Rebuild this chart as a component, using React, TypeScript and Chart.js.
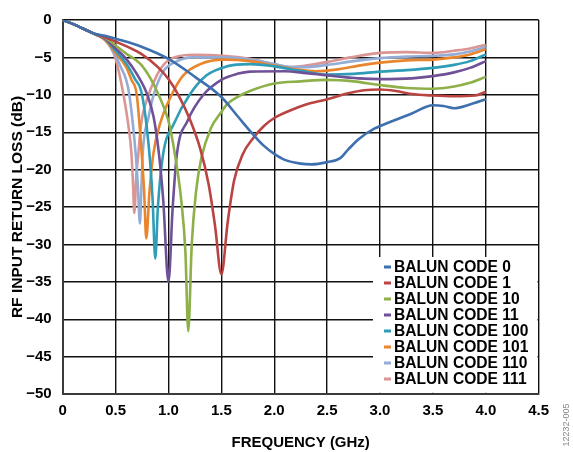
import React, { useEffect, useRef } from "react";
import { Chart, registerables } from "chart.js";

Chart.register(...registerables);

const seriesLabels = [
  "BALUN CODE 0",
  "BALUN CODE 1",
  "BALUN CODE 10",
  "BALUN CODE 11",
  "BALUN CODE 100",
  "BALUN CODE 101",
  "BALUN CODE 110",
  "BALUN CODE 111",
];
const seriesColors = ["#3e6fae", "#b94442", "#8db049", "#6e5197", "#2f9db7", "#e9862d", "#94acd6", "#d99694"];

const xTicks = [0, 0.5, 1.0, 1.5, 2.0, 2.5, 3.0, 3.5, 4.0, 4.5];
const yTicks = [0, -5, -10, -15, -20, -25, -30, -35, -40, -45, -50];

const code0Freq = [0, 0.1, 0.2, 0.3, 0.4, 0.5, 0.75, 1.0, 1.25, 1.5, 1.65, 1.8, 1.9, 2.0, 2.1, 2.25, 2.35, 2.5, 2.62, 2.7, 2.8, 2.95, 3.1, 3.3, 3.5, 3.6, 3.7, 3.85, 4.0];
const code0Db = [0, -0.55, -1.2, -1.85, -2.1, -2.5, -3.6, -5.2, -7.6, -10.3, -12.8, -15.3, -16.8, -17.9, -18.7, -19.2, -19.3, -19.0, -18.5, -17.3, -15.9, -14.5, -13.6, -12.5, -11.4, -11.5, -11.8, -11.3, -10.6];

const code1Freq = [0, 0.1, 0.2, 0.3, 0.4, 0.5, 0.6, 0.75, 0.9, 1.0, 1.1, 1.2, 1.3, 1.38, 1.44, 1.5, 1.56, 1.62, 1.7, 1.8, 1.9, 2.0, 2.15, 2.3, 2.5, 2.7, 2.85, 3.0, 3.15, 3.3, 3.5, 3.7, 3.9, 4.0];
const code1Db = [0, -0.55, -1.2, -1.85, -2.3, -2.9, -3.5, -4.6, -6.3, -7.9, -10.2, -13.2, -17.2, -22, -27.5, -34, -27, -21.5, -18, -15.8, -14.2, -13.1, -12.1, -11.3, -10.6, -9.8, -9.4, -9.3, -9.5, -9.9, -10.1, -10.2, -10.1, -9.6];

const code10Freq = [0, 0.1, 0.2, 0.3, 0.4, 0.5, 0.6, 0.73, 0.83, 0.9, 1.0, 1.06, 1.12, 1.16, 1.187, 1.22, 1.26, 1.31, 1.4, 1.5, 1.55, 1.65, 1.77, 2.0, 2.25, 2.5, 2.75, 3.0, 3.25, 3.5, 3.7, 3.85, 4.0];
const code10Db = [0, -0.55, -1.2, -1.85, -2.4, -3.4, -4.5, -5.8, -7.8, -9.8, -13.5, -17.9, -24, -31, -41.6, -30, -23, -18.5, -14.5, -12.3, -11.3, -10.3, -9.5, -8.5, -8.2, -8.0, -8.2, -8.7, -9.1, -9.2, -8.9, -8.4, -7.6];

const code11Freq = [0, 0.1, 0.2, 0.3, 0.4, 0.5, 0.6, 0.7, 0.8, 0.86, 0.91, 0.95, 1.0, 1.04, 1.08, 1.18, 1.33, 1.5, 1.65, 1.77, 2.1, 2.3, 2.5, 2.8, 3.0, 3.3, 3.5, 3.7, 3.85, 4.0];
const code11Db = [0, -0.55, -1.2, -1.85, -2.5, -3.8, -5.2, -7.2, -10, -13, -17.9, -24, -35, -25, -17.9, -13.5, -10, -8, -7.2, -6.9, -6.85, -7.1, -7.4, -7.8, -7.9, -7.8, -7.5, -7.0, -6.4, -5.5];

const code100Freq = [0, 0.1, 0.2, 0.3, 0.4, 0.5, 0.6, 0.68, 0.75, 0.82, 0.85, 0.875, 0.9, 0.95, 1.05, 1.2, 1.36, 1.55, 1.77, 2.0, 2.25, 2.5, 2.75, 3.0, 3.25, 3.5, 3.7, 3.85, 4.0];
const code100Db = [0, -0.55, -1.2, -1.85, -2.5, -4.1, -5.8, -7.8, -10, -17.9, -24, -31.9, -25, -17.9, -13.9, -10, -7.4, -6.2, -5.9, -6.2, -6.8, -7.3, -7.2, -6.9, -6.7, -6.4, -6.0, -5.5, -4.6];

const code101Freq = [0, 0.1, 0.2, 0.3, 0.4, 0.5, 0.6, 0.65, 0.7, 0.747, 0.77, 0.79, 0.82, 0.857, 0.92, 1.03, 1.14, 1.3, 1.52, 1.77, 2.0, 2.2, 2.4, 2.6, 2.8, 3.0, 3.25, 3.5, 3.7, 3.85, 4.0];
const code101Db = [0, -0.55, -1.2, -1.85, -2.6, -4.4, -6.3, -8, -10, -17.9, -23, -29.2, -23, -17.9, -13.9, -10, -7.4, -5.9, -5.3, -5.5, -6.1, -6.6, -6.85, -6.6, -6.1, -5.7, -5.4, -5.3, -5.0, -4.6, -3.9];

const code110Freq = [0, 0.1, 0.2, 0.3, 0.4, 0.5, 0.55, 0.6, 0.63, 0.69, 0.71, 0.73, 0.745, 0.756, 0.81, 0.86, 0.95, 1.08, 1.23, 1.52, 1.77, 2.0, 2.15, 2.3, 2.5, 2.75, 3.0, 3.25, 3.5, 3.7, 3.85, 4.0];
const code110Db = [0, -0.55, -1.2, -1.85, -2.6, -4.8, -6.3, -8, -10, -17.9, -22, -27.2, -22, -17.9, -13.1, -10, -6.9, -5.5, -5.0, -5.0, -5.3, -5.9, -6.3, -6.3, -6.0, -5.5, -5.1, -4.9, -4.8, -4.6, -4.2, -3.6];

const code111Freq = [0, 0.1, 0.2, 0.3, 0.4, 0.46, 0.5, 0.54, 0.575, 0.62, 0.65, 0.665, 0.677, 0.695, 0.715, 0.74, 0.79, 0.89, 0.98, 1.11, 1.27, 1.52, 1.77, 2.0, 2.15, 2.3, 2.5, 2.72, 3.0, 3.25, 3.5, 3.7, 3.85, 4.0];
const code111Db = [0, -0.55, -1.2, -1.85, -2.7, -3.8, -5.2, -7.5, -10, -14, -17.9, -22, -25.8, -21, -17.9, -14, -10.9, -7.4, -5.6, -4.8, -4.65, -4.8, -5.2, -5.9, -6.3, -6.1, -5.6, -5.0, -4.4, -4.3, -4.4, -4.1, -3.8, -3.3];

const seriesFreq = [code0Freq, code1Freq, code10Freq, code11Freq, code100Freq, code101Freq, code110Freq, code111Freq];
const seriesDb = [code0Db, code1Db, code10Db, code11Db, code100Db, code101Db, code110Db, code111Db];

const FONT = "'Liberation Sans', Arial, sans-serif";

const legendPlugin = {
  id: "innerLegend",
  afterDatasetsDraw(chart: any) {
    const ctx = chart.ctx;
    const area = chart.chartArea;
    const boxLeft = 373;
    const boxTop = 257;
    ctx.save();
    ctx.fillStyle = "#ffffff";
    ctx.fillRect(boxLeft, boxTop, area.right - 1.2 - boxLeft, area.bottom - 1.2 - boxTop);
    ctx.font = `bold 15.6px ${FONT}`;
    ctx.textBaseline = "middle";
    ctx.textAlign = "left";
    chart.data.datasets.forEach((ds: any, i: number) => {
      const y = 267 + i * 16;
      ctx.fillStyle = ds.borderColor;
      ctx.fillRect(384, y - 1.5, 7, 3);
      ctx.fillStyle = "#000000";
      ctx.fillText(ds.label, 394, y + 0.5);
    });
    ctx.restore();
  },
  afterDraw(chart: any) {
    const ctx = chart.ctx;
    ctx.save();
    ctx.translate(567, 425);
    ctx.rotate(-Math.PI / 2);
    ctx.font = `9px ${FONT}`;
    ctx.fillStyle = "#888888";
    ctx.textAlign = "center";
    ctx.textBaseline = "middle";
    ctx.fillText("12232-005", 0, 0);
    ctx.restore();
  },
};

export default function App() {
  const canvasRef = useRef<HTMLCanvasElement | null>(null);

  useEffect(() => {
    if (!canvasRef.current) return;
    const datasets = seriesLabels.map((label, i) => ({
      label,
      data: seriesFreq[i].map((f, j) => ({ x: f, y: seriesDb[i][j] })),
      borderColor: seriesColors[i],
      backgroundColor: seriesColors[i],
      borderWidth: 2.6,
      pointRadius: 0,
      cubicInterpolationMode: "monotone" as const,
      fill: false,
    }));
    const chart = new Chart(canvasRef.current, {
      type: "line",
      data: { datasets },
      plugins: [legendPlugin],
      options: {
        responsive: false,
        animation: false,
        layout: { padding: { left: 0, top: 14, right: 34.3, bottom: 0 } },
        plugins: { legend: { display: false }, tooltip: { enabled: false } },
        scales: {
          x: {
            type: "linear",
            min: 0,
            max: 4.5,
            afterBuildTicks: (scale: any) => {
              scale.ticks = xTicks.map((v) => ({ value: v }));
            },
            afterFit: (scale: any) => {
              scale.height = 58;
            },
            ticks: {
              padding: 8,
              color: "#000",
              font: { family: FONT, size: 15, weight: "bold" },
              maxRotation: 0,
              callback: (v: any) => (Number(v) === 0 ? "0" : Number(v).toFixed(1)),
            },
            grid: { color: "#111", lineWidth: 1.4, drawTicks: false },
            border: { color: "#3a3a3a", width: 2 },
            title: {
              display: true,
              text: "FREQUENCY (GHz)",
              color: "#000",
              font: { family: FONT, size: 15, weight: "bold" },
              padding: { top: 7, bottom: 0 },
            },
          },
          y: {
            type: "linear",
            min: -50,
            max: 0,
            afterBuildTicks: (scale: any) => {
              scale.ticks = yTicks.map((v) => ({ value: v }));
            },
            afterFit: (scale: any) => {
              scale.width = 62.7;
            },
            ticks: {
              padding: 11,
              color: "#000",
              font: { family: FONT, size: 15, weight: "bold" },
              callback: (v: any) => (Number(v) === 0 ? "0" : "\u2212" + Math.abs(Number(v))),
            },
            grid: { color: "#111", lineWidth: 1.4, drawTicks: false },
            border: { color: "#3a3a3a", width: 2 },
            title: {
              display: true,
              text: "RF INPUT RETURN LOSS (dB)",
              color: "#000",
              font: { family: FONT, size: 15.5, weight: "bold" },
              padding: { top: 8, bottom: 0 },
            },
          },
        },
      },
    });
    return () => chart.destroy();
  }, []);

  return (
    <div style={{ position: "absolute", left: 0, top: 0, width: 573, height: 452, background: "#fff" }}>
      <canvas ref={canvasRef} width={573} height={452} />
    </div>
  );
}
